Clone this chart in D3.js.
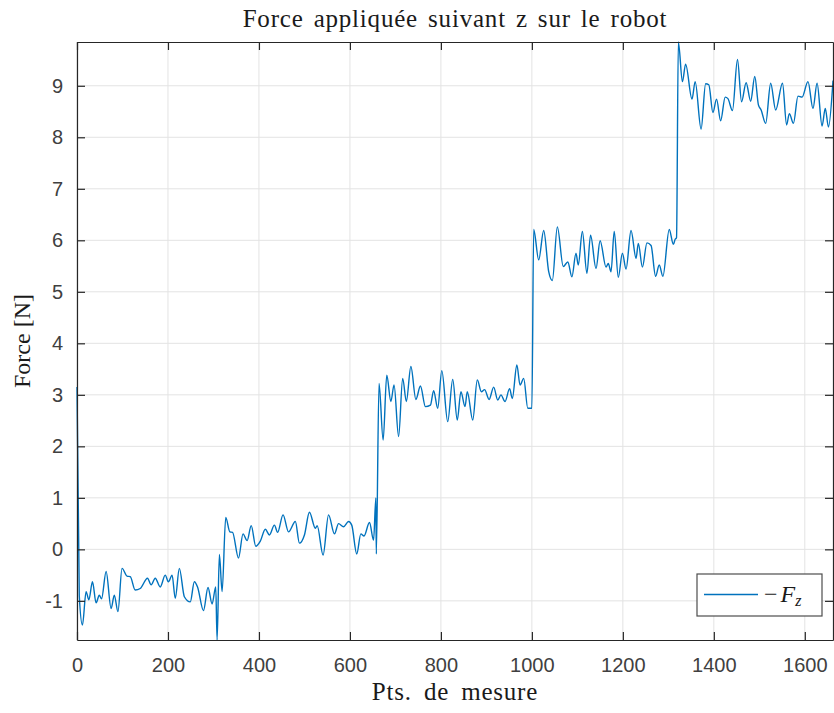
<!DOCTYPE html>
<html>
<head>
<meta charset="utf-8">
<script src="https://cdn.jsdelivr.net/npm/d3@7"></script>
<style>
  html, body { margin: 0; padding: 0; background: #fff; }
  svg { display: block; }
</style>
</head>
<body>
<div id="chart"></div>
<script>
// data
const ptsX = [
  0, 5, 12, 20, 26, 34, 42, 49, 54, 64, 75, 82, 90, 99, 110, 117, 128, 139, 155, 163,
  172, 183, 194, 201, 209, 216, 225, 236, 249, 258, 265, 278, 288, 297, 305, 308, 313, 319, 327, 336,
  342, 355, 365, 374, 383, 393, 403, 414, 423, 434, 441, 453, 465, 480, 489, 500, 511, 524, 528, 541,
  553, 566, 575, 586, 597, 604, 615, 624, 631, 643, 652, 657, 658, 664, 673, 681, 690, 697, 707, 716,
  724, 734, 745, 755, 766, 777, 784, 793, 802, 815, 826, 836, 844, 853, 858, 870, 880, 889, 896, 906,
  916, 925, 932, 941, 951, 957, 967, 974, 982, 991, 1000, 1004, 1015, 1026, 1037, 1045, 1056, 1069, 1079, 1088,
  1097, 1102, 1111, 1121, 1129, 1141, 1150, 1163, 1168, 1174, 1181, 1190, 1199, 1207, 1218, 1229, 1234, 1243, 1253, 1262,
  1272, 1280, 1288, 1302, 1311, 1315, 1318, 1322, 1331, 1338, 1352, 1359, 1372, 1382, 1389, 1398, 1406, 1415, 1425, 1431,
  1441, 1452, 1461, 1471, 1481, 1490, 1498, 1504, 1514, 1525, 1536, 1551, 1560, 1566, 1575, 1585, 1594, 1607, 1618, 1627,
  1638, 1645, 1652, 1662
];
const forceZ = [
  3.15, -0.9, -1.47, -0.82, -0.98, -0.63, -1.04, -0.89, -0.96, -0.43, -1.15, -0.89, -1.21, -0.37, -0.52, -0.53, -0.79, -0.76, -0.56, -0.69,
  -0.56, -0.73, -0.5, -0.63, -0.5, -0.95, -0.37, -0.92, -1.02, -0.63, -0.73, -1.19, -0.74, -1.06, -0.73, -1.76, -0.1, -0.82, 0.62, 0.34,
  0.33, -0.17, 0.3, 0.17, 0.46, 0.06, 0.16, 0.39, 0.28, 0.47, 0.33, 0.67, 0.34, 0.54, 0.12, 0.28, 0.72, 0.41, 0.46, -0.11,
  0.67, 0.3, 0.5, 0.44, 0.54, 0.47, -0.09, 0.3, 0.26, 0.52, 0.18, 1.0, -0.09, 3.22, 2.12, 3.38, 2.87, 3.19, 2.19, 3.32,
  2.87, 3.55, 2.91, 3.17, 2.77, 2.8, 3.08, 2.74, 3.47, 2.48, 3.3, 2.51, 3.06, 2.77, 3.06, 2.51, 3.29, 3.06, 3.1, 2.91,
  3.15, 2.9, 3.0, 2.87, 3.12, 2.93, 3.58, 3.19, 3.32, 2.74, 2.74, 6.21, 5.62, 6.19, 5.39, 5.22, 6.26, 5.49, 5.58, 5.29,
  5.75, 5.52, 6.17, 5.36, 6.1, 5.45, 5.99, 5.48, 5.55, 5.39, 6.17, 5.28, 5.75, 5.44, 6.19, 5.65, 5.94, 5.48, 5.95, 5.9,
  5.3, 5.52, 5.3, 6.21, 5.92, 6.02, 6.05, 9.85, 9.08, 9.42, 8.74, 9.08, 8.16, 9.04, 9.02, 8.48, 8.74, 8.32, 8.78, 8.75,
  8.52, 9.51, 8.69, 9.06, 8.7, 9.18, 8.63, 8.53, 8.27, 9.05, 8.53, 9.05, 8.24, 8.46, 8.27, 8.8, 8.78, 9.08, 8.56, 9.05,
  8.22, 8.56, 8.2, 9.1
];
const xTicks = [0, 200, 400, 600, 800, 1000, 1200, 1400, 1600];
const yTicks = [-1, 0, 1, 2, 3, 4, 5, 6, 7, 8, 9];
const xDomain = [0, 1662];
const yDomain = [-1.76, 9.85];

const W = 834, H = 713;
const m = { top: 42, right: 1, bottom: 73, left: 77 };
const iw = W - m.left - m.right, ih = H - m.top - m.bottom;
const axisColor = '#262626', gridColor = '#e3e3e3', lineColor = '#0072bd';

const svg = d3.select('#chart').append('svg')
  .attr('width', W).attr('height', H);

const x = d3.scaleLinear().domain(xDomain).range([0, iw]);
const y = d3.scaleLinear().domain(yDomain).range([ih, 0]);

const g = svg.append('g').attr('transform', `translate(${m.left},${m.top})`);

// grid
g.append('g').selectAll('line').data(xTicks).join('line')
  .attr('x1', d => x(d)).attr('x2', d => x(d))
  .attr('y1', 0).attr('y2', ih)
  .attr('stroke', gridColor).attr('stroke-width', 1);
g.append('g').selectAll('line').data(yTicks).join('line')
  .attr('y1', d => y(d)).attr('y2', d => y(d))
  .attr('x1', 0).attr('x2', iw)
  .attr('stroke', gridColor).attr('stroke-width', 1);

// signal
g.append('clipPath').attr('id', 'clip')
  .append('rect').attr('x', -1).attr('y', -1).attr('width', iw + 2).attr('height', ih + 2);

const pts = ptsX.map((d, i) => [d, forceZ[i]]);
const line = d3.line()
  .x(d => x(d[0])).y(d => y(d[1]))
  .curve(d3.curveMonotoneX);
g.append('path').datum(pts)
  .attr('clip-path', 'url(#clip)')
  .attr('fill', 'none')
  .attr('stroke', lineColor)
  .attr('stroke-width', 1.4)
  .attr('stroke-linejoin', 'round')
  .attr('d', line);

// axes (MATLAB style, ticks inside)
const tickFont = '"Liberation Sans", Arial, sans-serif';
const fmt = d => String(d);
const xAxisB = d3.axisBottom(x).tickValues(xTicks).tickFormat(fmt).tickSizeInner(-8).tickSizeOuter(0).tickPadding(18);
const xAxisT = d3.axisTop(x).tickValues(xTicks).tickSizeInner(-8).tickSizeOuter(0).tickFormat('');
const yAxisL = d3.axisLeft(y).tickValues(yTicks).tickFormat(fmt).tickSizeInner(-8).tickSizeOuter(0).tickPadding(14);
const yAxisR = d3.axisRight(y).tickValues(yTicks).tickSizeInner(-8).tickSizeOuter(0).tickFormat('');

function style(sel) {
  sel.select('.domain').attr('stroke', axisColor).attr('stroke-width', 1.2);
  sel.selectAll('.tick line').attr('stroke', axisColor).attr('stroke-width', 1.2);
  sel.selectAll('.tick text').attr('fill', '#404040')
    .style('font-family', tickFont).style('font-size', '20px');
}
g.append('g').attr('transform', `translate(0,${ih})`).call(xAxisB).call(style);
g.append('g').call(xAxisT).call(style);
g.append('g').call(yAxisL).call(style);
g.append('g').attr('transform', `translate(${iw},0)`).call(yAxisR).call(style);

// labels
const serif = '"Liberation Serif", "DejaVu Serif", serif';
svg.append('text')
  .attr('x', m.left + iw / 2).attr('y', 27)
  .attr('text-anchor', 'middle')
  .style('font-family', serif).style('font-size', '25px')
  .style('letter-spacing', '0.8px').style('word-spacing', '3px')
  .attr('fill', '#1a1a1a')
  .text('Force appliquée suivant z sur le robot');
svg.append('text')
  .attr('x', m.left + iw / 2).attr('y', 700)
  .attr('text-anchor', 'middle')
  .style('font-family', serif).style('font-size', '25px')
  .style('letter-spacing', '0.8px').style('word-spacing', '5px')
  .attr('fill', '#1a1a1a')
  .text('Pts. de mesure');
svg.append('text')
  .attr('transform', `translate(30,${m.top + ih / 2}) rotate(-90)`)
  .attr('text-anchor', 'middle')
  .style('font-family', serif).style('font-size', '24px')
  .attr('fill', '#1a1a1a')
  .text('Force [N]');

// legend
const lg = svg.append('g').attr('transform', 'translate(697,574)');
lg.append('rect').attr('width', 125).attr('height', 42)
  .attr('fill', '#fff').attr('stroke', '#4d4d4d').attr('stroke-width', 1.2);
lg.append('line').attr('x1', 7).attr('x2', 61).attr('y1', 20.5).attr('y2', 20.5)
  .attr('stroke', lineColor).attr('stroke-width', 1.4);
const lt = lg.append('text').attr('x', 67).attr('y', 28)
  .style('font-family', serif).style('font-size', '24px').attr('fill', '#1a1a1a');
lt.append('tspan').text('\u2212');
lt.append('tspan').attr('font-style', 'italic').attr('dx', 3).text('F');
lt.append('tspan').attr('font-style', 'italic').attr('font-size', '16px').attr('dy', 4).text('z');
</script>
</body>
</html>
